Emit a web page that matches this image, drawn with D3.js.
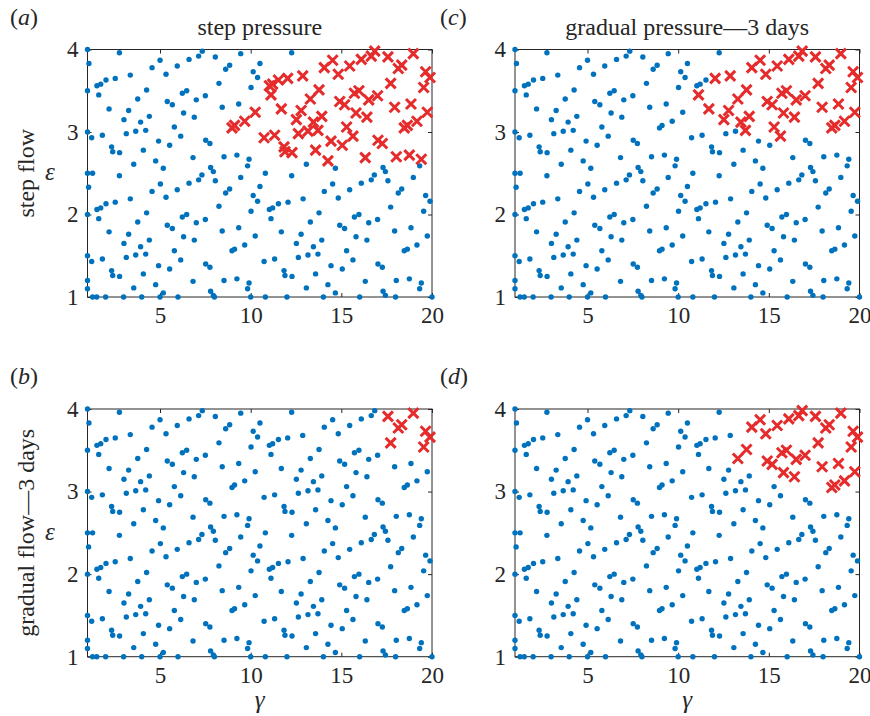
<!DOCTYPE html>
<html>
<head>
<meta charset="utf-8">
<script src="https://cdn.jsdelivr.net/npm/d3@7"></script>
<style>
  html, body { margin: 0; padding: 0; background: #fff; }
  svg { display: block; }
  text { font-family: "Liberation Serif", "Times New Roman", serif; fill: #262626; }
</style>
</head>
<body>
<svg id="chart" width="870" height="716"></svg>
<script>
// ---------------- DATA ----------------
// Sampled parameter points [gamma, epsilon] (same in every panel)
const samplePoints = [
  [1.00,4.00],[2.76,3.96],[5.00,3.87],[7.33,3.98],[7.13,3.92],[8.05,3.91],[9.45,3.95],[1.08,3.83],[4.56,3.78],[5.33,3.70],
  [5.95,3.80],[6.60,3.88],[8.62,3.76],[8.84,3.81],[10.51,3.83],[10.14,3.73],[10.38,3.66],[2.53,3.65],[2.02,3.63],[1.73,3.58],
  [1.52,3.56],[3.36,3.69],[1.00,3.50],[1.62,3.45],[4.26,3.51],[8.25,3.59],[10.02,3.54],[6.23,3.47],[6.47,3.50],[7.50,3.44],
  [7.00,3.39],[3.77,3.40],[5.40,3.37],[5.68,3.33],[2.19,3.28],[3.27,3.26],[8.43,3.30],[9.34,3.34],[10.25,3.24],[6.30,3.23],
  [6.89,3.18],[4.41,3.19],[3.01,3.15],[3.93,3.12],[9.67,3.13],[9.11,3.08],[8.97,3.05],[5.79,3.06],[1.00,3.00],[1.23,2.93],
  [1.82,2.96],[3.14,2.98],[3.66,3.01],[4.21,3.02],[6.14,2.95],[4.92,2.89],[7.52,2.90],[7.75,2.86],[5.53,2.84],[2.33,2.82],
  [2.39,2.76],[2.77,2.75],[4.08,2.78],[6.82,2.69],[8.53,2.70],[9.24,2.72],[9.91,2.67],[9.83,2.59],[4.76,2.65],[3.55,2.61],
  [5.18,2.56],[7.79,2.57],[7.94,2.52],[1.00,2.50],[1.28,2.50],[2.76,2.47],[7.31,2.48],
  [7.13,2.42],[6.60,2.38],[8.05,2.41],[9.45,2.45],[5.02,2.37],[1.06,2.33],[4.56,2.28],[5.95,2.30],[8.62,2.26],[8.84,2.31],
  [10.51,2.34],[10.14,2.23],[10.38,2.16],[5.33,2.21],[3.36,2.19],[2.53,2.15],[2.02,2.13],[1.73,2.08],[1.52,2.06],[1.00,2.00],
  [1.62,1.95],[4.26,2.02],[8.25,2.10],[10.02,2.04],[6.23,1.97],[6.47,2.00],[7.50,1.94],[7.00,1.90],[3.77,1.91],[5.40,1.87],
  [5.68,1.83],[2.19,1.79],[3.27,1.76],[8.43,1.80],[9.34,1.84],[10.25,1.74],[6.30,1.73],[6.89,1.69],[4.41,1.69],[3.01,1.65],
  [3.93,1.61],[9.67,1.63],[9.11,1.58],[8.97,1.56],[5.79,1.56],[1.00,1.50],[1.23,1.43],[1.82,1.46],[3.14,1.48],[3.66,1.51],
  [4.21,1.52],[6.14,1.45],[4.92,1.38],[7.52,1.40],[7.75,1.36],[5.53,1.34],[2.33,1.32],[2.39,1.26],[2.77,1.25],[4.08,1.28],
  [6.82,1.19],[8.53,1.20],[9.24,1.22],[9.91,1.17],[9.83,1.10],[4.76,1.15],[3.55,1.11],[1.00,1.20],[1.00,1.10],[5.18,1.05],
  [7.79,1.07],[7.94,1.02],[8.00,1.00],[1.28,1.00],[1.51,1.00],[2.00,1.00],[2.99,1.00],[3.99,1.00],[5.00,1.00],[5.99,1.00],
  [10.00,1.00],
  [12.26,3.96],[14.52,3.87],[16.65,3.92],[16.84,3.98],[16.10,3.88],[15.46,3.80],[14.06,3.78],[14.83,3.70],[12.87,3.68],[12.04,3.65],
  [11.53,3.63],[11.21,3.58],[11.03,3.56],[11.12,3.45],[13.77,3.51],[15.72,3.47],[15.97,3.50],[16.51,3.39],[17.00,3.44],[13.29,3.40],
  [14.91,3.37],[15.18,3.33],[11.69,3.28],[12.78,3.26],[17.94,3.30],[18.84,3.34],[19.74,3.24],[15.81,3.23],[16.41,3.18],[13.92,3.19],
  [12.52,3.15],[13.46,3.12],[19.17,3.13],[18.64,3.08],[18.47,3.05],[15.29,3.06],[10.74,2.93],[11.32,2.96],[12.63,2.98],[13.16,3.01],
  [13.71,3.02],[15.64,2.95],[14.43,2.89],[17.02,2.90],[17.26,2.86],[15.05,2.84],[11.84,2.82],[11.89,2.76],[12.28,2.75],[13.58,2.78],
  [16.32,2.69],[18.03,2.70],[18.75,2.72],[19.41,2.67],[19.32,2.59],[14.26,2.65],[13.07,2.61],[14.67,2.56],[17.30,2.57],[17.43,2.52],
  [10.81,2.50],[12.26,2.47],[16.82,2.48],
  [17.57,3.91],[18.97,3.95],[18.14,3.77],[18.33,3.81],[19.65,3.73],[19.89,3.66],[17.72,3.59],[19.54,3.54],
  [14.52,2.37],[16.65,2.42],[16.10,2.38],[15.46,2.30],[14.06,2.28],[14.83,2.20],[12.89,2.19],[12.06,2.15],[11.53,2.13],[11.21,2.08],
  [11.03,2.06],[11.12,1.95],[13.77,2.02],[15.72,1.97],[15.97,2.00],[16.51,1.90],[17.00,1.94],[13.29,1.91],[14.91,1.87],[15.18,1.83],
  [11.69,1.79],[12.78,1.76],[17.94,1.80],[18.84,1.84],[19.74,1.74],[15.81,1.73],[16.41,1.69],[13.92,1.69],[12.52,1.65],[13.46,1.61],
  [19.17,1.63],[18.64,1.58],[18.47,1.56],[15.29,1.56],[10.74,1.43],[11.32,1.46],[12.63,1.48],[13.16,1.51],[13.71,1.52],[15.64,1.45],
  [14.43,1.38],[17.02,1.40],[17.26,1.36],[15.05,1.34],[11.84,1.32],[11.89,1.26],[12.28,1.25],[13.58,1.28],[16.32,1.19],[18.03,1.20],
  [18.75,1.22],[19.41,1.17],[19.32,1.10],[14.26,1.15],[13.07,1.11],[14.67,1.05],[17.30,1.07],[17.43,1.02],[18.97,2.45],[17.57,2.41],
  [18.14,2.26],[18.33,2.31],[19.65,2.23],[19.89,2.16],[17.72,2.09],[19.54,2.04],[10.81,1.00],[12.00,1.00],[14.01,1.00],[16.01,1.00],
  [17.99,1.00],[20.00,1.00]
];

// Points flagged (red crosses) in each panel
const redB = [
  [17.57,3.91],[18.97,3.95],[18.14,3.77],[18.33,3.81],[19.65,3.73],[19.89,3.66],[17.72,3.59],[19.54,3.54]
];
const redD = [
  [17.57,3.91],[18.97,3.95],[18.14,3.77],[18.33,3.81],[19.65,3.73],[19.89,3.66],[17.72,3.59],[19.54,3.54],
  [14.52,3.87],[16.65,3.92],[16.84,3.98],[16.10,3.88],[15.46,3.80],[14.06,3.78],[14.83,3.70],[13.77,3.51],
  [15.72,3.47],[15.97,3.50],[16.51,3.39],[17.00,3.44],[13.29,3.40],[14.91,3.37],[15.18,3.33],[17.94,3.30],
  [18.84,3.34],[19.74,3.24],[15.81,3.23],[16.41,3.18],[19.17,3.13],[18.64,3.08],[18.47,3.05]
];
const redC = [
  [17.57,3.91],[18.97,3.95],[18.14,3.77],[18.33,3.81],[19.65,3.73],[19.89,3.66],[17.72,3.59],[19.54,3.54],
  [14.52,3.87],[16.65,3.92],[16.84,3.98],[16.10,3.88],[15.46,3.80],[14.06,3.78],[14.83,3.70],[13.77,3.51],
  [15.72,3.47],[15.97,3.50],[16.51,3.39],[17.00,3.44],[13.29,3.40],[14.91,3.37],[15.18,3.33],[17.94,3.30],
  [18.84,3.34],[19.74,3.24],[15.81,3.23],[16.41,3.18],[19.17,3.13],[18.64,3.08],[18.47,3.05],
  [12.87,3.68],[12.04,3.65],[11.12,3.45],[11.69,3.28],[12.78,3.26],[13.92,3.19],[12.52,3.15],[13.46,3.12],
  [15.29,3.06],[13.71,3.02],[15.64,2.95]
];
const redA = [
  [17.57,3.91],[18.97,3.95],[18.14,3.77],[18.33,3.81],[19.65,3.73],[19.89,3.66],[17.72,3.59],[19.54,3.54],
  [14.52,3.87],[16.65,3.92],[16.84,3.98],[16.10,3.88],[15.46,3.80],[14.06,3.78],[14.83,3.70],[12.87,3.68],[12.04,3.65],
  [11.53,3.63],[11.21,3.58],[11.03,3.56],[11.12,3.45],[13.77,3.51],[15.72,3.47],[15.97,3.50],[16.51,3.39],[17.00,3.44],[13.29,3.40],
  [14.91,3.37],[15.18,3.33],[11.69,3.28],[12.78,3.26],[17.94,3.30],[18.84,3.34],[19.74,3.24],[15.81,3.23],[16.41,3.18],[13.92,3.19],
  [12.52,3.15],[13.46,3.12],[19.17,3.13],[18.64,3.08],[18.47,3.05],[15.29,3.06],[10.74,2.93],[11.32,2.96],[12.63,2.98],[13.16,3.01],
  [13.71,3.02],[15.64,2.95],[14.43,2.89],[17.02,2.90],[17.26,2.86],[15.05,2.84],[11.84,2.82],[11.89,2.76],[12.28,2.75],[13.58,2.78],
  [16.32,2.69],[18.03,2.70],[18.75,2.72],[19.41,2.67],[14.26,2.65],
  [10.25,3.24],[9.67,3.13],[9.11,3.08],[8.97,3.05]
];

const xTicks = [5, 10, 15, 20];
const yTicks = [1, 2, 3, 4];
const xDomain = [1, 20];
const yDomain = [1, 4];
const panelLetters = ["a", "b", "c", "d"];
const columnTitles = ["step pressure", "gradual pressure\u20143 days"];
const rowLabels = ["step flow", "gradual flow\u20143 days"];
const xLabel = "\u03B3";
const yLabel = "\u03B5";

// ---------------- LAYOUT ----------------
const svg = d3.select("#chart");
const cols = [{x0: 87.5, x1: 432}, {x0: 515, x1: 859.5}];
const rows = [{y0: 49.5, y1: 297}, {y0: 409, y1: 656.7}];
const panels = [
  {letter: panelLetters[0], col: 0, row: 0, red: redA},
  {letter: panelLetters[1], col: 0, row: 1, red: redB},
  {letter: panelLetters[2], col: 1, row: 0, red: redC},
  {letter: panelLetters[3], col: 1, row: 1, red: redD}
];
const blue = "#0072BD";
const red = "#e52b2b";
const axisColor = "#262626";
const fontSize = 24;
const tickFont = 23;

panels.forEach(p => {
  const c = cols[p.col], r = rows[p.row];
  const x = d3.scaleLinear().domain(xDomain).range([c.x0, c.x1]);
  const y = d3.scaleLinear().domain(yDomain).range([r.y1, r.y0]);
  const g = svg.append("g");

  // frame
  g.append("rect")
    .attr("x", c.x0).attr("y", r.y0)
    .attr("width", c.x1 - c.x0).attr("height", r.y1 - r.y0)
    .attr("fill", "none").attr("stroke", axisColor).attr("stroke-width", 1);

  const styleAxis = sel => {
    sel.select(".domain").remove();
    sel.selectAll(".tick line").attr("stroke", axisColor).attr("stroke-width", 1);
    sel.selectAll(".tick text")
      .attr("fill", axisColor)
      .style("font-size", tickFont + "px")
      .style("font-family", '"Liberation Serif", "Times New Roman", serif');
  };

  g.append("g").attr("transform", `translate(0,${r.y1})`)
    .call(d3.axisBottom(x).tickValues(xTicks).tickSizeInner(-4).tickSizeOuter(0).tickPadding(10).tickFormat(d3.format("d")))
    .call(styleAxis);
  g.append("g").attr("transform", `translate(0,${r.y0})`)
    .call(d3.axisTop(x).tickValues(xTicks).tickSizeInner(-4).tickSizeOuter(0).tickFormat(""))
    .call(styleAxis);
  g.append("g").attr("transform", `translate(${c.x0},0)`)
    .call(d3.axisLeft(y).tickValues(yTicks).tickSizeInner(-4).tickSizeOuter(0).tickPadding(9).tickFormat(d3.format("d")))
    .call(styleAxis);
  g.append("g").attr("transform", `translate(${c.x1},0)`)
    .call(d3.axisRight(y).tickValues(yTicks).tickSizeInner(-4).tickSizeOuter(0).tickFormat(""))
    .call(styleAxis);

  // blue dots (not flagged)
  const isRed = d => p.red.some(q => q[0] === d[0] && q[1] === d[1]);
  const bluePts = samplePoints.filter(d => !isRed(d));
  g.append("g").selectAll("circle").data(bluePts).join("circle")
    .attr("cx", d => x(d[0])).attr("cy", d => y(d[1]))
    .attr("r", 2.7).attr("fill", blue);

  // red crosses
  const s = 5;
  g.append("g").selectAll("path").data(p.red).join("path")
    .attr("d", d => {
      const cx = x(d[0]), cy = y(d[1]);
      return `M${cx - s},${cy - s}L${cx + s},${cy + s}M${cx - s},${cy + s}L${cx + s},${cy - s}`;
    })
    .attr("stroke", red).attr("stroke-width", 3).attr("fill", "none");

  // panel letter
  const lx = p.col === 0 ? 10 : 440;
  const ly = r.y0 - 25;
  const t = svg.append("text").attr("x", lx).attr("y", ly).style("font-size", fontSize + "px");
  t.append("tspan").text("(");
  t.append("tspan").style("font-style", "italic").text(p.letter);
  t.append("tspan").text(")");

  // column title
  if (p.row === 0) {
    svg.append("text")
      .attr("x", (c.x0 + c.x1) / 2).attr("y", r.y0 - 15)
      .attr("text-anchor", "middle")
      .style("font-size", fontSize + "px")
      .text(columnTitles[p.col]);
  }
  // x label on bottom row
  if (p.row === 1) {
    svg.append("text")
      .attr("x", (c.x0 + c.x1) / 2).attr("y", r.y1 + 51)
      .attr("text-anchor", "middle")
      .style("font-size", "25px").style("font-style", "italic")
      .text(xLabel);
  }
  // row label + epsilon on left column
  if (p.col === 0) {
    const my = (r.y0 + r.y1) / 2;
    svg.append("text")
      .attr("transform", `translate(34,${my}) rotate(-90)`)
      .attr("text-anchor", "middle")
      .style("font-size", fontSize + "px")
      .text(rowLabels[p.row]);
    svg.append("text")
      .attr("x", 50).attr("y", my + 7)
      .attr("text-anchor", "middle")
      .style("font-size", "25px").style("font-style", "italic")
      .text(yLabel);
  }
});
</script>
</body>
</html>
